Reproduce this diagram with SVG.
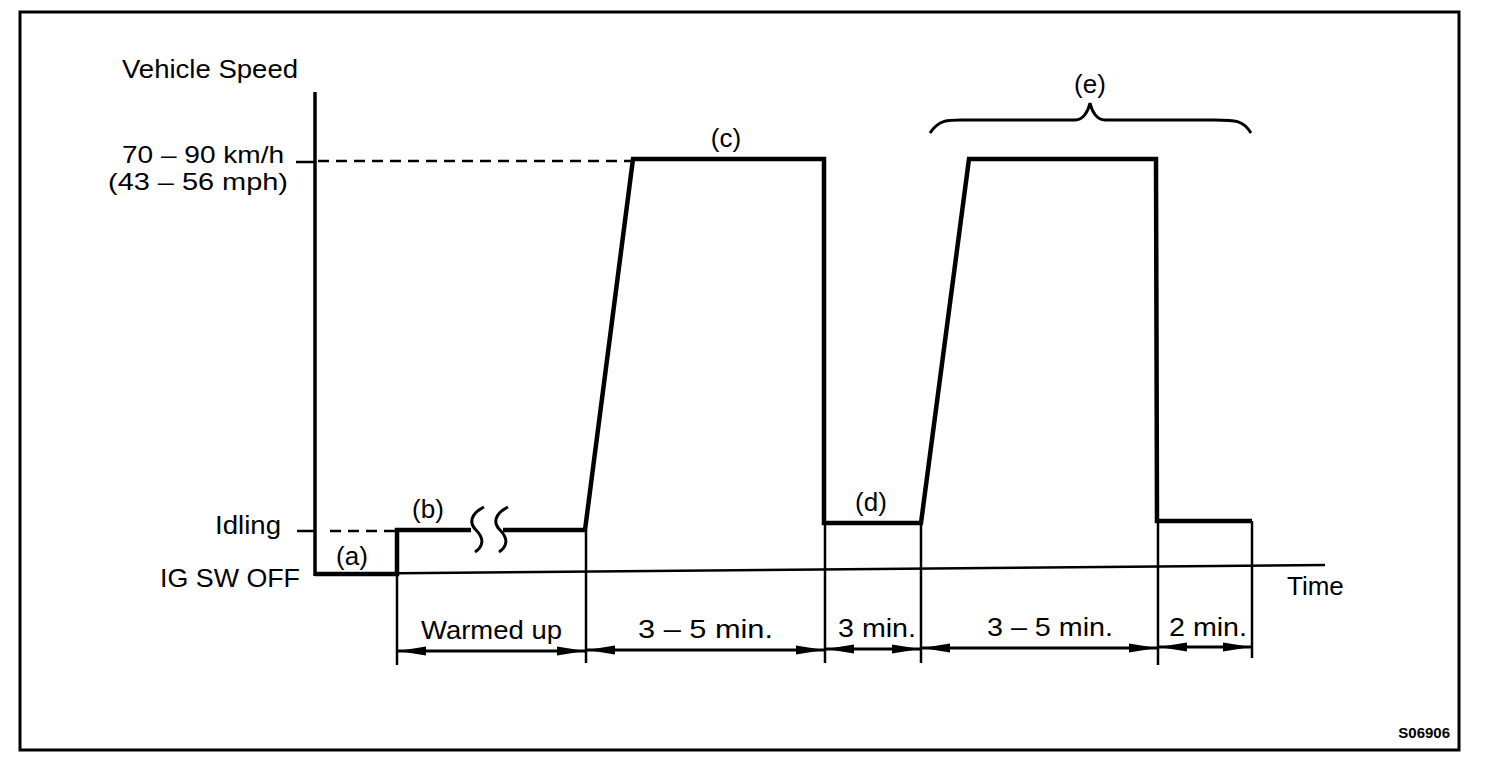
<svg xmlns="http://www.w3.org/2000/svg" width="1504" height="774" viewBox="0 0 1504 774">
<style>
text{font-family:"Liberation Sans",Arial,sans-serif;font-size:26px;fill:#000}
.thick{fill:none;stroke:#000;stroke-width:4.5;stroke-linejoin:miter}
.thin{fill:none;stroke:#000;stroke-width:2.5}
.dash{fill:none;stroke:#000;stroke-width:2.5;stroke-dasharray:11,7}
.dim{fill:none;stroke:#000;stroke-width:3;marker-start:url(#ah);marker-end:url(#ah)}
</style>
<defs>
<marker id="ah" viewBox="0 0 28 11" refX="28" refY="5.5" markerWidth="28" markerHeight="11" markerUnits="userSpaceOnUse" orient="auto-start-reverse">
<path d="M0,1 L28,5.5 L0,10 Z" fill="#000"/>
</marker>
</defs>
<rect width="1504" height="774" fill="#fff"/>
<rect x="20" y="12" width="1439" height="738" fill="none" stroke="#000" stroke-width="3"/>
<g id="axes">
<line class="thin" x1="315" y1="92" x2="315" y2="576" style="stroke-width:3.5"/>
<line class="thin" x1="315" y1="574" x2="1325" y2="565"/>
<line class="thin" x1="296" y1="162" x2="315" y2="162"/>
<line class="thin" x1="297" y1="531" x2="315" y2="531"/>
<line class="dash" x1="318" y1="161" x2="632" y2="161"/>
<line class="dash" x1="330" y1="531" x2="395" y2="531"/>
</g>
<g id="speed-profile">
<path class="thick" d="M315,574 L397,574 L397,530 L471,530"/>
<path class="thick" d="M503,530 L585,530 L633,159 L824,159 L824,523 L921,523 L969,159 L1156,159 L1157,521 L1252,521"/>
<path class="thin" d="M484,507 C472,513 468,522 476,530 C484,538 484,546 475,552" style="stroke-width:3"/>
<path class="thin" d="M508,507 C496,513 492,522 500,530 C508,538 508,546 499,552" style="stroke-width:3"/>
</g>
<g id="dividers">
<line class="thin" x1="397" y1="574" x2="397" y2="665"/>
<line class="thin" x1="586" y1="530" x2="586" y2="663"/>
<line class="thin" x1="825" y1="523" x2="825" y2="663"/>
<line class="thin" x1="921" y1="523" x2="921" y2="663"/>
<line class="thin" x1="1158" y1="521" x2="1158" y2="665"/>
<line class="thin" x1="1252" y1="521" x2="1252" y2="658"/>
</g>
<g id="connectors">
<line class="dim" x1="398" y1="651" x2="585" y2="651"/>
<line class="dim" x1="587" y1="650" x2="824" y2="650"/>
<line class="dim" x1="826" y1="649" x2="920" y2="649"/>
<line class="dim" x1="922" y1="648" x2="1157" y2="648"/>
<line class="dim" x1="1159" y1="647" x2="1251" y2="647"/>
</g>
<g id="brace-e">
<path class="thin" d="M930,133 C940,118 950,120 970,120 L1075,120 C1083,120 1088,112 1090,103 C1092,112 1097,120 1105,120 L1215,120 C1235,120 1243,120 1251,133" style="stroke-width:3"/>
</g>
<g id="labels">
<text x="122" y="78" textLength="176" lengthAdjust="spacingAndGlyphs">Vehicle Speed</text>
<text x="122" y="163" style="font-size:24px" textLength="162" lengthAdjust="spacingAndGlyphs">70 – 90 km/h</text>
<text x="108" y="190" style="font-size:24px" textLength="180" lengthAdjust="spacingAndGlyphs">(43 – 56 mph)</text>
<text x="215" y="534" textLength="66" lengthAdjust="spacingAndGlyphs">Idling</text>
<text x="160" y="587" textLength="140" lengthAdjust="spacingAndGlyphs">IG SW OFF</text>
<text x="352" y="565" text-anchor="middle">(a)</text>
<text x="428" y="518" text-anchor="middle">(b)</text>
<text x="726" y="147" text-anchor="middle">(c)</text>
<text x="871" y="511" text-anchor="middle">(d)</text>
<text x="1090" y="93" text-anchor="middle">(e)</text>
<text x="1287" y="595">Time</text>
<text x="421" y="639" textLength="141" lengthAdjust="spacingAndGlyphs">Warmed up</text>
<text x="638" y="638" textLength="135" lengthAdjust="spacingAndGlyphs">3 – 5 min.</text>
<text x="838" y="637" textLength="78" lengthAdjust="spacingAndGlyphs">3 min.</text>
<text x="987" y="636" textLength="126" lengthAdjust="spacingAndGlyphs">3 – 5 min.</text>
<text x="1169" y="636" textLength="78" lengthAdjust="spacingAndGlyphs">2 min.</text>
<text x="1450" y="738" text-anchor="end" style="font-size:15px;font-weight:bold">S06906</text>
</g>
</svg>
